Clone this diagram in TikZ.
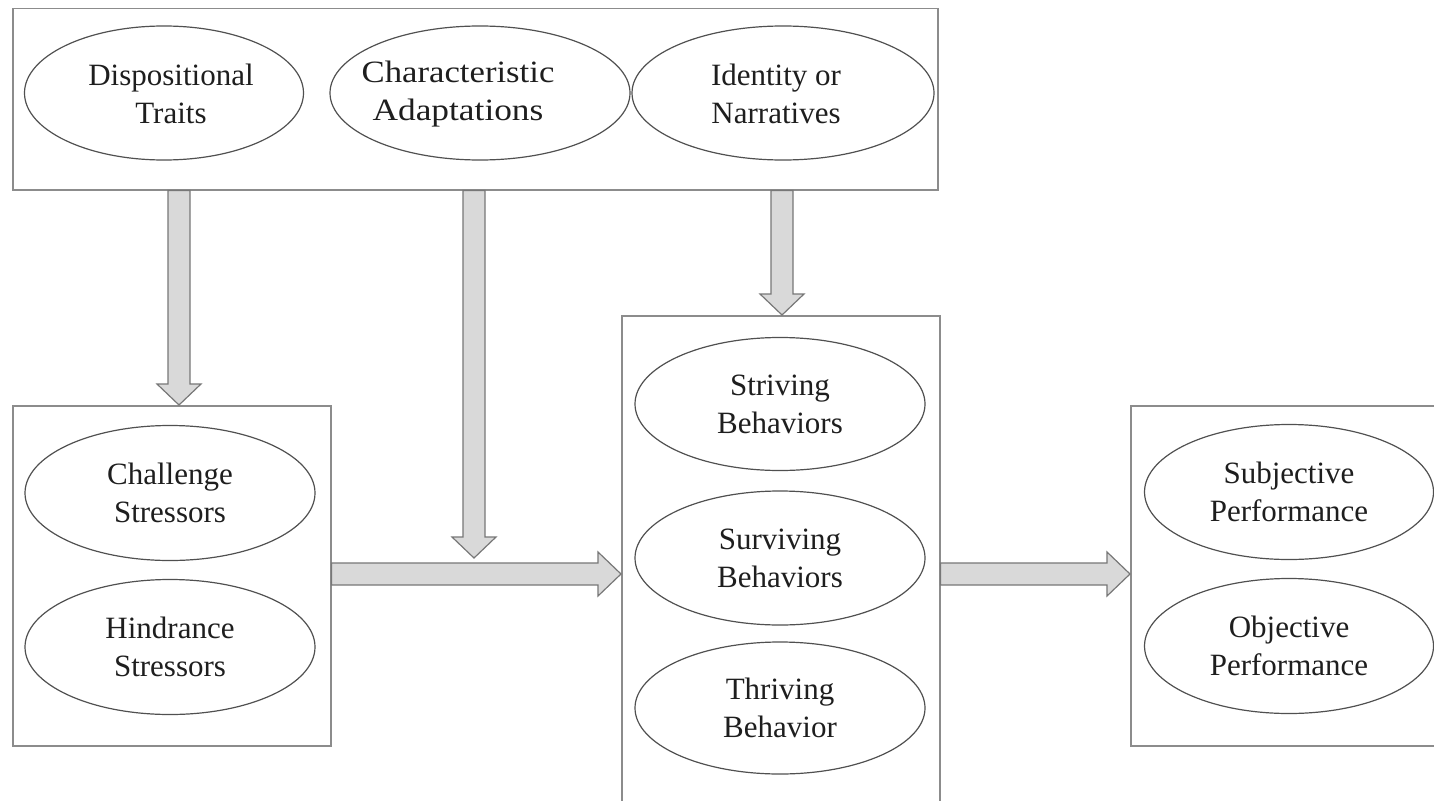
\documentclass[tikz,border=0pt]{standalone}
\usepackage{fontspec}
\setmainfont{Liberation Serif}
\usetikzlibrary{shapes.geometric,calc}
\definecolor{boxline}{HTML}{8C8C8C}
\definecolor{ellline}{HTML}{505050}
\definecolor{arrfill}{HTML}{D9D9D9}
\definecolor{arrline}{HTML}{777777}
\definecolor{txtcol}{HTML}{1E1E1E}
\newcommand{\varrow}[2]{\draw[blockarrow] let \p1=(#1), \p2=(#2) in
  (\x1-11pt,\y1) -- (\x1-11pt,\y2+21pt) -- (\x1-22pt,\y2+21pt) -- (\x1,\y2) --
  (\x1+22pt,\y2+21pt) -- (\x1+11pt,\y2+21pt) -- (\x1+11pt,\y1) -- cycle;}
\newcommand{\harrow}[2]{\draw[blockarrow] let \p1=(#1), \p2=(#2) in
  (\x1,\y1+11pt) -- (\x2-23pt,\y1+11pt) -- (\x2-23pt,\y1+22pt) -- (\x2,\y1) --
  (\x2-23pt,\y1-22pt) -- (\x2-23pt,\y1-11pt) -- (\x1,\y1-11pt) -- cycle;}
\begin{document}
\begin{tikzpicture}[x=1pt,y=-1pt,
  frame/.style={rectangle,draw=boxline,line width=1.5pt,anchor=north west,inner sep=0pt},
  oval/.style={ellipse,draw=ellline,line width=1.2pt,inner sep=0pt,align=center,
    font=\fontsize{31}{38}\selectfont,text=txtcol},
  lbl/.style={align=center,inner sep=0pt,font=\fontsize{31}{38}\selectfont,text=txtcol},
  blockarrow/.style={fill=arrfill,draw=arrline,line width=1.2pt,line join=miter}]
\useasboundingbox (0,0) rectangle (1434,800);
\clip (0,0) rectangle (1434,800);
% boxes
\node[frame,minimum width=925pt,minimum height=181pt] (topbox) at (12,8) {};
\node[frame,minimum width=318pt,minimum height=340pt] (leftbox) at (12,405) {};
\node[frame,minimum width=318pt,minimum height=495pt] (midbox) at (621,315) {};
\node[frame,minimum width=330pt,minimum height=340pt] (rightbox) at (1130,405) {};
% top ellipses
\node[oval,minimum width=279pt,minimum height=134pt] (disp) at (164,93) {};
\node[lbl] (disptxt) at (171,94) {Dispositional\\Traits};
\node[oval,minimum width=300pt,minimum height=134pt] (char) at (480,93) {};
\node[lbl] (chartxt) at (458,94) {\scalebox{1.12}[1]{Characteristic}\\\scalebox{1.14}[1]{Adaptations}};
\node[oval,minimum width=302pt,minimum height=134pt] (iden) at (783,93) {};
\node[lbl] (identxt) at (776,94) {Identity or\\Narratives};
% left ellipses
\node[oval,minimum width=290pt,minimum height=135pt] (chal) at (170,493) {Challenge\\Stressors};
\node[oval,minimum width=290pt,minimum height=135pt] (hind) at (170,647) {Hindrance\\Stressors};
% middle ellipses
\node[oval,minimum width=290pt,minimum height=133pt] (striv) at (780,404) {Striving\\Behaviors};
\node[oval,minimum width=290pt,minimum height=134pt] (surv) at (780,558) {Surviving\\Behaviors};
\node[oval,minimum width=290pt,minimum height=132pt] (thriv) at (780,708) {Thriving\\Behavior};
% right ellipses
\node[oval,minimum width=289pt,minimum height=135pt] (subj) at (1289,492) {Subjective\\Performance};
\node[oval,minimum width=289pt,minimum height=135pt] (obj) at (1289,646) {Objective\\Performance};
% arrow anchors
\coordinate (ax1) at (179,0);
\coordinate (ax2) at (474,0);
\coordinate (ax3) at (782,0);
\coordinate (ay) at (0,574);
\coordinate (v2end) at (474,558);
% arrows
\varrow{ax1 |- topbox.south}{ax1 |- leftbox.north}
\varrow{ax2 |- topbox.south}{v2end}
\varrow{ax3 |- topbox.south}{ax3 |- midbox.north}
\harrow{leftbox.east |- ay}{midbox.west |- ay}
\harrow{midbox.east |- ay}{rightbox.west |- ay}
\end{tikzpicture}
\end{document}
